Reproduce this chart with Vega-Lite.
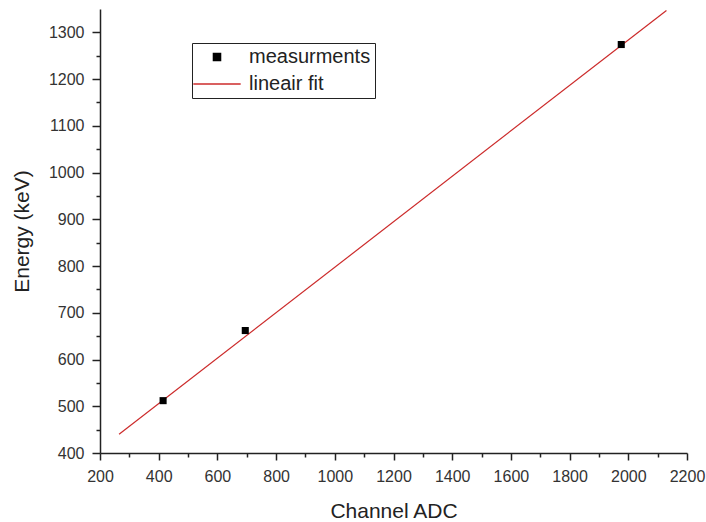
{
  "$schema": "https://vega.github.io/schema/vega-lite/v6.json",
  "autosize": {"type": "none"},
  "padding": {"left": 100, "top": 9, "right": 19, "bottom": 69},
  "width": 587,
  "height": 444,
  "background": "white",
  "config": {
    "view": {"stroke": null},
    "font": "Liberation Sans",
    "axis": {
      "domainColor": "#222",
      "tickColor": "#222",
      "labelColor": "#333",
      "titleColor": "#222",
      "labelFont": "Liberation Sans",
      "titleFont": "Liberation Sans",
      "labelFontSize": 16,
      "titleFontSize": 21,
      "titleFontWeight": "normal",
      "grid": false,
      "domainWidth": 1.5,
      "tickWidth": 1.5,
      "labelFlush": false,
      "format": "d"
    }
  },
  "datasets": {
    "meas": [
      {"channel": 415, "energy": 512, "series": "measurments"},
      {"channel": 695, "energy": 662, "series": "measurments"},
      {"channel": 1976, "energy": 1274, "series": "measurments"}
    ],
    "fit": [
      {"channel": 265, "energy": 440, "series": "lineair fit"},
      {"channel": 2130, "energy": 1347, "series": "lineair fit"}
    ]
  },
  "layer": [
    {
      "data": {"name": "fit"},
      "mark": {"type": "line", "strokeWidth": 1.2, "clip": true},
      "encoding": {
        "x": {
          "field": "channel", "type": "quantitative",
          "scale": {"domain": [200, 2200], "nice": false, "zero": false},
          "axis": {"orient": "bottom", "values": [300, 500, 700, 900, 1100, 1300, 1500, 1700, 1900, 2100], "labels": false, "domain": false, "tickSize": 4, "title": null}
        },
        "y": {
          "field": "energy", "type": "quantitative",
          "scale": {"domain": [400, 1350], "nice": false, "zero": false},
          "axis": {"orient": "left", "values": [450, 550, 650, 750, 850, 950, 1050, 1150, 1250], "labels": false, "domain": false, "tickSize": 4, "title": null}
        },
        "color": {"field": "series", "type": "nominal", "scale": {"domain": ["measurments", "lineair fit"], "range": ["#000000", "#cc2b2b"]}}
      }
    },
    {
      "data": {"name": "meas"},
      "mark": {"type": "point", "filled": true, "opacity": 1, "size": 50},
      "encoding": {
        "x": {
          "field": "channel", "type": "quantitative",
          "axis": {"orient": "bottom", "values": [200, 400, 600, 800, 1000, 1200, 1400, 1600, 1800, 2000, 2200], "format": "d", "tickSize": 7, "labelPadding": 8, "title": "Channel ADC", "titlePadding": 16}
        },
        "y": {
          "field": "energy", "type": "quantitative",
          "axis": {"orient": "left", "values": [400, 500, 600, 700, 800, 900, 1000, 1100, 1200, 1300], "format": "d", "tickSize": 8, "labelPadding": 8, "title": "Energy (keV)", "titlePadding": 16}
        },
        "color": {"field": "series", "type": "nominal",
          "legend": {
            "orient": "none", "legendX": 92, "legendY": 34, "title": null,
            "strokeColor": "#222", "padding": 4, "labelFontSize": 20, "labelColor": "#222",
            "symbolSize": 50, "rowPadding": 7, "labelOffset": 22, "symbolOffset": 11,
            "encode": {
              "symbols": {"update": {
                "stroke": {"scale": "color", "field": "value"},
                "strokeWidth": {"value": 1.2}
              }}
            }
          }
        },
        "shape": {"field": "series", "type": "nominal", "scale": {"domain": ["measurments", "lineair fit"], "range": ["square", "M-6.7,0H6.7"]}}
      }
    }
  ],
  "resolve": {"axis": {"x": "independent", "y": "independent"}}
}
